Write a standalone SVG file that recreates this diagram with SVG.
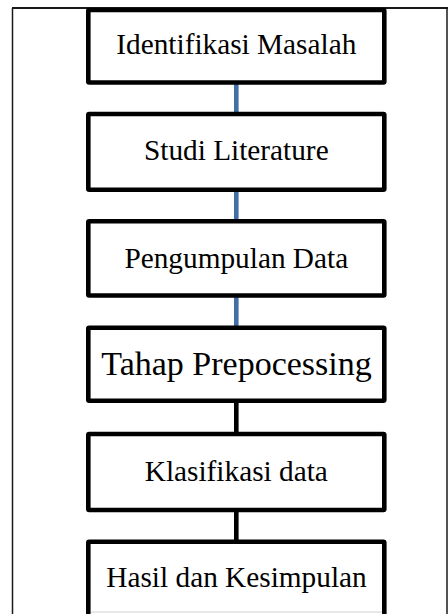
<svg xmlns="http://www.w3.org/2000/svg" width="448" height="614" viewBox="0 0 448 614">
  <style>
    .box { fill: #ffffff; stroke: #000000; stroke-width: 4.6; }
    .lbl { font-family: "Liberation Serif", "Times New Roman", serif; font-size: 29.3px; fill: #000000; text-anchor: middle; }
    .big { font-size: 34px; }
    .frame { fill: none; stroke: #1a1a1a; }
    .blue { stroke: #416FA6; stroke-width: 4.6; }
    .black { stroke: #000000; stroke-width: 4.6; }
  </style>
  <rect x="0" y="0" width="448" height="614" fill="#ffffff"/>
  <g id="frame">
    <line class="frame" x1="12.5" y1="8" x2="12.5" y2="614" stroke-width="1.5"/>
    <line class="frame" x1="12" y1="8" x2="448" y2="8" stroke-width="2"/>
    <line class="frame" x1="447" y1="8" x2="447" y2="614" stroke-width="1.5"/>
  </g>
  <g id="connectors">
    <line class="blue" x1="236.3" y1="82" x2="236.3" y2="114"/>
    <line class="blue" x1="236.3" y1="190" x2="236.3" y2="221"/>
    <line class="blue" x1="236.3" y1="295" x2="236.3" y2="328"/>
    <line class="black" x1="236.3" y1="400" x2="236.3" y2="434"/>
    <line class="black" x1="236.3" y1="510" x2="236.3" y2="542"/>
  </g>
  <g id="n1">
    <rect class="box" x="88.3" y="10" width="296" height="72.5" rx="1"/>
    <text class="lbl" x="236.3" y="54">Identifikasi Masalah</text>
  </g>
  <g id="n2">
    <rect class="box" x="88.3" y="114" width="296" height="75.7" rx="1"/>
    <text class="lbl" x="236.3" y="160">Studi Literature</text>
  </g>
  <g id="n3">
    <rect class="box" x="88.3" y="221.3" width="296" height="74.2" rx="1"/>
    <text class="lbl" x="236.3" y="267.5">Pengumpulan Data</text>
  </g>
  <g id="n4">
    <rect class="box" x="88.3" y="327.8" width="296" height="72.9" rx="1"/>
    <text class="lbl big" x="236.5" y="375">Tahap Prepocessing</text>
  </g>
  <g id="n5">
    <rect class="box" x="88.3" y="434" width="296" height="76" rx="1"/>
    <text class="lbl" x="236.3" y="480.7">Klasifikasi data</text>
  </g>
  <g id="n6">
    <rect class="box" x="88.3" y="541.7" width="296" height="90" rx="1"/>
    <text class="lbl" x="236.5" y="586.7">Hasil dan Kesimpulan</text>
    <line x1="91" y1="612" x2="382" y2="612" stroke="#d0d0d0" stroke-width="1"/>
  </g>
</svg>
